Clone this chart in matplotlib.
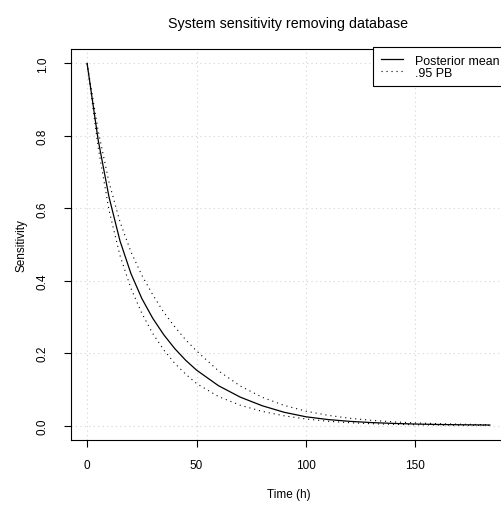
import matplotlib
matplotlib.use("Agg")
import matplotlib.pyplot as plt

plt.rcParams['font.family'] = ['Liberation Sans', 'DejaVu Sans']

# values
hours = [0, 5, 10, 15, 20, 25, 30, 35, 40, 45, 50, 60, 70, 80, 90, 100,
         110, 120, 130, 140, 150, 160, 170, 184]
post_mean = [1.0, 0.7906, 0.6313, 0.5104, 0.4200, 0.3508, 0.2960, 0.2509,
             0.2127, 0.1804, 0.1530, 0.1100, 0.0783, 0.0546, 0.0366, 0.0241,
             0.0165, 0.0115, 0.0081, 0.0058, 0.0041, 0.0029, 0.0021, 0.0013]
pb_upper = [1.0, 0.816, 0.672, 0.563, 0.480, 0.415, 0.361, 0.313, 0.273,
            0.237, 0.206, 0.151, 0.109, 0.078, 0.0556, 0.0396, 0.0282, 0.020,
            0.0143, 0.0101, 0.0072, 0.0051, 0.0037, 0.0023]
pb_lower = [1.0, 0.770, 0.595, 0.470, 0.379, 0.310, 0.254, 0.209, 0.172,
            0.142, 0.116, 0.080, 0.056, 0.039, 0.0268, 0.018, 0.0118, 0.0077,
            0.005, 0.0033, 0.0021, 0.0014, 0.0009, 0.0005]

x_ticks = [0, 50, 100, 150]
y_ticks = [0.0, 0.2, 0.4, 0.6, 0.8, 1.0]

fig = plt.figure(figsize=(5.02, 5.06), dpi=100)
ax = fig.add_axes([71 / 502, 1 - 441 / 506, (506 - 71) / 502, (441 - 50) / 506])

dots = (0, (1, 3.5))
ax.plot(hours, post_mean, color='black', lw=0.9, label='Posterior mean')
ax.plot(hours, pb_upper, color='black', lw=0.8, linestyle=dots, label='.95 PB')
ax.plot(hours, pb_lower, color='black', lw=0.8, linestyle=dots)

span = hours[-1] - hours[0]
ax.set_xlim(hours[0] - 0.04 * span, hours[-1] + 0.04 * span)
ax.set_ylim(-0.04, 1.04)
ax.set_xticks(x_ticks)
ax.set_yticks(y_ticks)
ax.set_yticklabels([f"{v:.1f}" for v in y_ticks], rotation=90, va='center')

ax.grid(True, color='#d3d3d3', linestyle=(0, (1, 3)), lw=0.8)
ax.set_axisbelow(True)

for s in ax.spines.values():
    s.set_linewidth(0.8)
ax.tick_params(axis='both', direction='out', length=5, width=0.8, labelsize=8.5)
ax.tick_params(axis='x', pad=8.5)
ax.tick_params(axis='y', pad=11)

ax.set_xlabel('Time (h)', fontsize=8.5, labelpad=12.5)
ax.set_ylabel('Sensitivity', fontsize=8.5, labelpad=7)
ax.set_title('System sensitivity removing database', fontsize=10.3, pad=16)

ax.legend(loc='upper left', bbox_to_anchor=(0.694, 1.005), fontsize=8.9,
          frameon=True, fancybox=False, edgecolor='black', framealpha=1,
          borderaxespad=0, handlelength=1.85, handletextpad=0.95,
          borderpad=0.62, labelspacing=0.0)
ax.get_legend().get_frame().set_linewidth(0.8)

fig.savefig('out.png', dpi=100)
